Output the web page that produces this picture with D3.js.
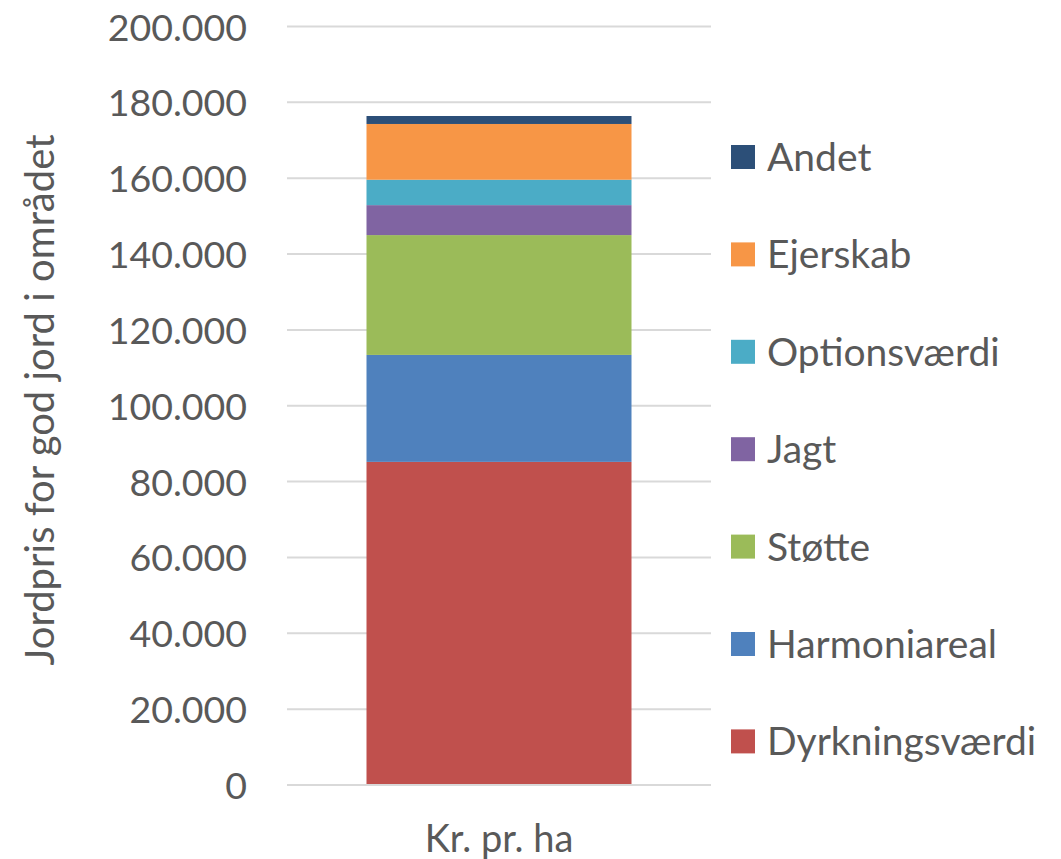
<!DOCTYPE html>
<html>
<head>
<meta charset="utf-8">
<script src="https://cdn.jsdelivr.net/npm/d3@7"></script>
<style>
  body { margin: 0; background: #fff; }
  text { font-family: Lato, "Open Sans", sans-serif; fill: #595959; }
</style>
</head>
<body>
<div id="chart"></div>
<script>
var categories = ["Kr. pr. ha"];
var seriesNames = ["Dyrkningsværdi", "Harmoniareal", "Støtte", "Jagt", "Optionsværdi", "Ejerskab", "Andet"];
var seriesValues = [85200, 28200, 31600, 7900, 6700, 14700, 2100];
var seriesColors = ["#C0504D", "#4F81BD", "#9BBB59", "#8064A2", "#4BACC6", "#F79646", "#2C4F78"];
var yTicks = [0, 20000, 40000, 60000, 80000, 100000, 120000, 140000, 160000, 180000, 200000];

var width = 1061, height = 859;

var svg = d3.select("#chart").append("svg")
    .attr("width", width)
    .attr("height", height);

var x = d3.scaleBand()
    .domain(categories)
    .range([287, 711])
    .paddingInner(0)
    .paddingOuter(0.3);

var y = d3.scaleLinear()
    .domain([0, 200000])
    .range([785, 26.5]);

var fmt = function(d) { return d3.format(",")(d).replace(/,/g, "."); };

// gridlines
svg.append("g").attr("class", "grid")
    .selectAll("line")
    .data(yTicks)
    .enter().append("line")
    .attr("x1", 287).attr("x2", 711)
    .attr("y1", function(d) { return y(d); })
    .attr("y2", function(d) { return y(d); })
    .attr("stroke", "#d9d9d9")
    .attr("stroke-width", 2);

// y axis labels
var yAxis = svg.append("g")
    .attr("transform", "translate(247,0)")
    .call(d3.axisLeft(y).tickValues(yTicks).tickFormat(fmt).tickSize(0).tickPadding(0));
yAxis.select(".domain").remove();
yAxis.selectAll("text")
    .attr("font-size", 37.5)
    .attr("dy", "0.36em")
    .style("fill", "#595959");

// stacked bar
var row = { cat: categories[0] };
seriesNames.forEach(function(n, i) { row[n] = seriesValues[i]; });
var stacked = d3.stack().keys(seriesNames)([row]);

svg.append("g").attr("class", "plot")
    .selectAll("rect")
    .data(stacked)
    .enter().append("rect")
    .attr("x", function(s) { return x(s[0].data.cat); })
    .attr("width", x.bandwidth())
    .attr("y", function(s) { return y(s[0][1]); })
    .attr("height", function(s) { return y(s[0][0]) - y(s[0][1]); })
    .attr("fill", function(s, i) { return seriesColors[i]; });

// baseline
svg.append("line")
    .attr("x1", 287).attr("x2", 711)
    .attr("y1", y(0)).attr("y2", y(0))
    .attr("stroke", "#d9d9d9")
    .attr("stroke-width", 2);

// x axis label
var xAxis = svg.append("g")
    .attr("transform", "translate(0," + 838 + ")")
    .call(d3.axisBottom(x).tickSize(0).tickPadding(0));
xAxis.select(".domain").remove();
xAxis.selectAll("text")
    .attr("font-size", 38)
    .attr("dy", "0.36em")
    .style("fill", "#595959");

// y axis title
svg.append("text")
    .attr("transform", "translate(54,400) rotate(-90)")
    .attr("text-anchor", "middle")
    .attr("font-size", 40)
    .text("Jordpris for god jord i området");

// legend (reverse order, top = Andet)
var legendOrder = seriesNames.slice().reverse();
var legend = svg.append("g").attr("class", "legend")
    .selectAll("g")
    .data(legendOrder)
    .enter().append("g")
    .attr("transform", function(d, i) { return "translate(731," + (157 + i * 97.4) + ")"; });

legend.append("rect")
    .attr("x", 0).attr("y", -12)
    .attr("width", 24).attr("height", 24)
    .attr("fill", function(d) { return seriesColors[seriesNames.indexOf(d)]; });

legend.append("text")
    .attr("x", 36)
    .attr("dy", "0.36em")
    .attr("font-size", 39)
    .text(function(d) { return d; });
</script>
</body>
</html>
